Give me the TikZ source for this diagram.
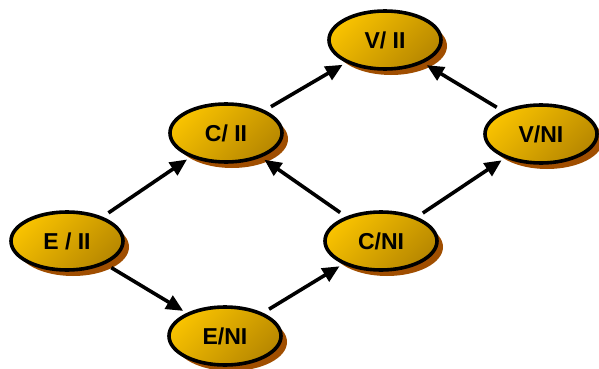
\documentclass[tikz,border=0pt]{standalone}
\usepackage{fontspec}
\setmainfont{Liberation Sans}
\usetikzlibrary{shapes.geometric,shadows,arrows.meta}
\definecolor{goldA}{HTML}{F8C200}
\definecolor{goldB}{HTML}{B88800}
\definecolor{shadowc}{HTML}{A04E00}
\tikzset{
  state/.style={ellipse, draw=black, line width=3.6pt, minimum width=112pt, minimum height=58pt, inner sep=0pt,
    shading=axis, top color=goldA, bottom color=goldB, shading angle=45,
    general shadow={fill=shadowc, shadow xshift=6pt, shadow yshift=-6pt},
    font=\fontsize{23}{23}\selectfont\bfseries},
  link/.style={line width=3.6pt, -{Triangle[length=17pt,width=15pt]}, shorten <=7pt, shorten >=4pt}
}
\begin{document}
\begin{tikzpicture}[x=1pt,y=-1pt]
\useasboundingbox (0,0) rectangle (599,369);
\node[state] (EII) at (67,241) {E / II};
\node[state] (ENI) at (225,336) {E/NI};
\node[state] (CII) at (226,133) {C/ II};
\node[state] (CNI) at (381,241) {C/NI};
\node[state] (VII) at (385,40) {V/ II};
\node[state] (VNI) at (541,134) {V/NI};
\draw[link] (EII) -- (CII);
\draw[link] (EII) -- (ENI);
\draw[link] (ENI) -- (CNI);
\draw[link] (CNI) -- (CII);
\draw[link] (CII) -- (VII);
\draw[link] (CNI) -- (VNI);
\draw[link] (VNI) -- (VII);
\end{tikzpicture}
\end{document}
